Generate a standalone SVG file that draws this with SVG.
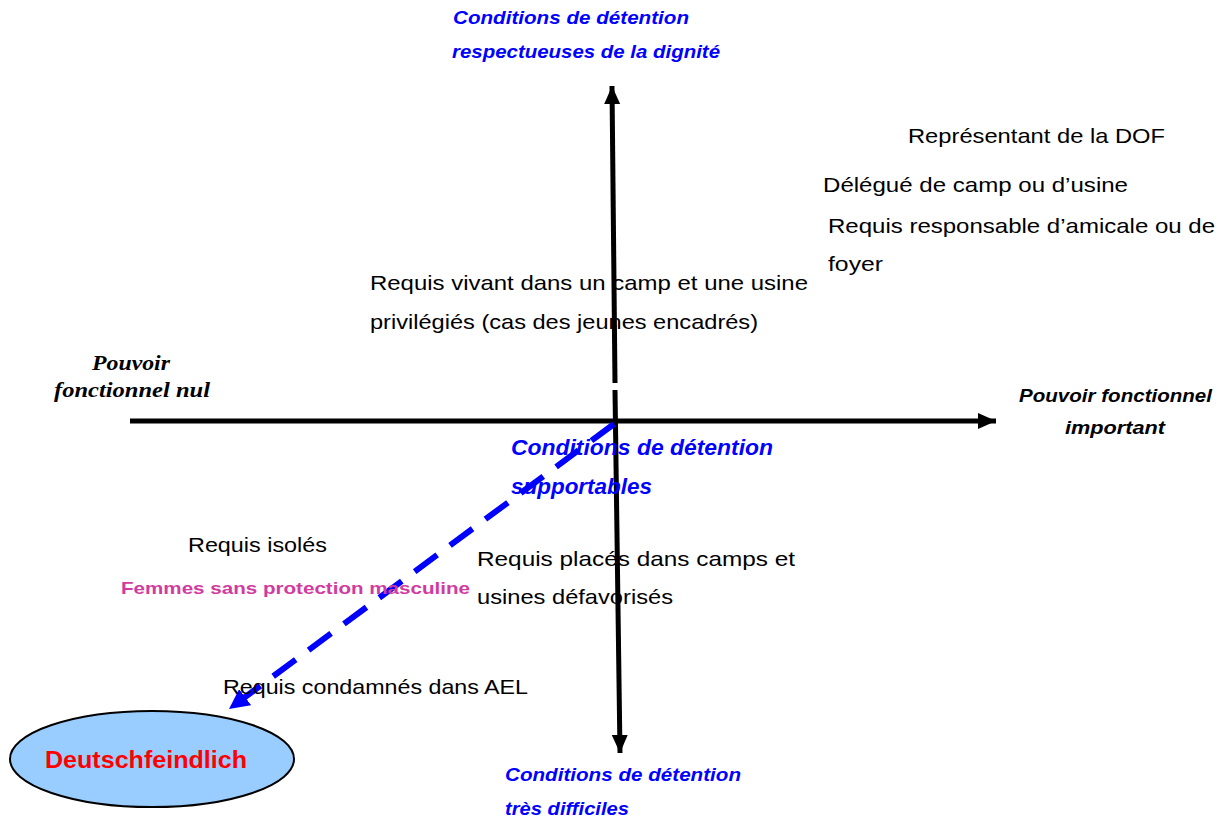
<svg xmlns="http://www.w3.org/2000/svg" width="1224" height="820" viewBox="0 0 1224 820">
<style>
.t{font-family:"Liberation Sans",Arial,sans-serif;font-size:21px;fill:#000}
.b{font-family:"Liberation Sans",Arial,sans-serif;font-weight:bold;font-style:italic;fill:#0000ff}
.k{font-family:"Liberation Sans",Arial,sans-serif;font-weight:bold;font-style:italic;font-size:18px;fill:#000}
.s{font-family:"Liberation Serif","Times New Roman",serif;font-weight:bold;font-style:italic;font-size:20px;fill:#000}
.ax{stroke:#000;stroke-width:5;fill:none}
</style>
<defs>
<marker id="ah" markerUnits="userSpaceOnUse" markerWidth="20" markerHeight="18" refX="18" refY="9" orient="auto"><path d="M0,1 L18,9 L0,17 Z" fill="#000"/></marker>
<marker id="bh" markerUnits="userSpaceOnUse" markerWidth="22" markerHeight="20" refX="20" refY="10" orient="auto"><path d="M0,0 L20,10 L0,20 Z" fill="#0000ff"/></marker>
</defs>
<g id="connectors">
<line class="ax" x1="130" y1="421" x2="996" y2="421" marker-end="url(#ah)"/>
<line class="ax" x1="615" y1="383" x2="612" y2="86" marker-end="url(#ah)"/>
<line class="ax" x1="615" y1="390" x2="620" y2="753" marker-end="url(#ah)"/>
<line x1="614" y1="424" x2="229" y2="709" stroke="#0000ff" stroke-width="6" stroke-dasharray="28,16" marker-end="url(#bh)"/>
</g>
<g id="label-top">
<text class="b" font-size="19" x="453" y="24" textLength="236" lengthAdjust="spacingAndGlyphs">Conditions de détention</text>
<text class="b" font-size="19" x="452" y="58" textLength="268" lengthAdjust="spacingAndGlyphs">respectueuses de la dignité</text>
</g>
<g id="label-mid">
<text class="b" font-size="22" x="511" y="455" textLength="262" lengthAdjust="spacingAndGlyphs">Conditions de détention</text>
<text class="b" font-size="22" x="511" y="494" textLength="141" lengthAdjust="spacingAndGlyphs">supportables</text>
</g>
<g id="label-bottom">
<text class="b" font-size="19" x="505" y="781" textLength="236" lengthAdjust="spacingAndGlyphs">Conditions de détention</text>
<text class="b" font-size="19" x="505" y="815" textLength="124" lengthAdjust="spacingAndGlyphs">très difficiles</text>
</g>
<g id="label-right">
<text class="k" x="1019" y="402" textLength="193" lengthAdjust="spacingAndGlyphs">Pouvoir fonctionnel</text>
<text class="k" x="1065" y="434" textLength="100" lengthAdjust="spacingAndGlyphs">important</text>
</g>
<g id="label-left">
<text class="s" x="92" y="370" textLength="78" lengthAdjust="spacingAndGlyphs">Pouvoir</text>
<text class="s" x="54" y="397" textLength="156" lengthAdjust="spacingAndGlyphs">fonctionnel nul</text>
</g>
<g id="dof"><text class="t" x="908" y="143" textLength="257" lengthAdjust="spacingAndGlyphs">Représentant de la DOF</text></g>
<g id="delegue"><text class="t" x="823" y="192" textLength="305" lengthAdjust="spacingAndGlyphs">Délégué de camp ou d’usine</text></g>
<g id="amicale">
<text class="t" x="828" y="233" textLength="387" lengthAdjust="spacingAndGlyphs">Requis responsable d’amicale ou de</text>
<text class="t" x="828" y="271" textLength="55" lengthAdjust="spacingAndGlyphs">foyer</text>
</g>
<g id="privilegies">
<text class="t" x="370" y="290" textLength="438" lengthAdjust="spacingAndGlyphs">Requis vivant dans un camp et une usine</text>
<text class="t" x="370" y="329" textLength="388" lengthAdjust="spacingAndGlyphs">privilégiés (cas des jeunes encadrés)</text>
</g>
<g id="isoles"><text class="t" x="188" y="552" textLength="139" lengthAdjust="spacingAndGlyphs">Requis isolés</text></g>
<g id="femmes"><text x="121" y="594" font-family="Liberation Sans,Arial,sans-serif" font-weight="bold" font-size="17" fill="#d13ba0" textLength="349" lengthAdjust="spacingAndGlyphs">Femmes sans protection masculine</text></g>
<g id="defavorises">
<text class="t" x="477" y="566" textLength="318" lengthAdjust="spacingAndGlyphs">Requis  placés dans  camps et</text>
<text class="t" x="477" y="604" textLength="196" lengthAdjust="spacingAndGlyphs">usines défavorisés</text>
</g>
<g id="ael"><text class="t" x="223" y="694" textLength="305" lengthAdjust="spacingAndGlyphs">Requis condamnés dans AEL</text></g>
<g id="deutschfeindlich">
<ellipse cx="152" cy="759" rx="142" ry="48" fill="#99ccff" stroke="#000" stroke-width="2"/>
<text x="45" y="768" font-family="Liberation Sans,Arial,sans-serif" font-weight="bold" font-size="23" fill="#ff0000" textLength="202" lengthAdjust="spacingAndGlyphs">Deutschfeindlich</text>
</g>
</svg>
